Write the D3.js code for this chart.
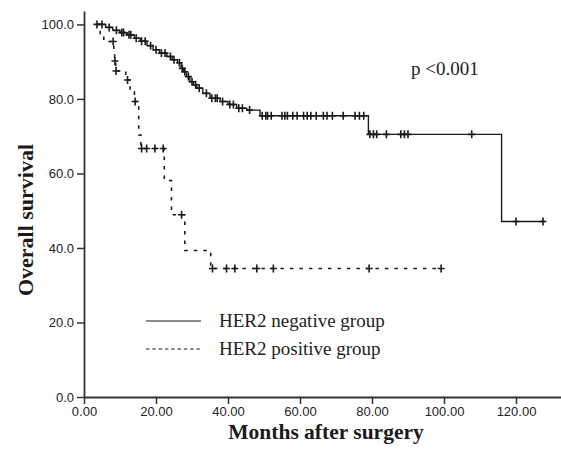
<!DOCTYPE html>
<html>
<head>
<meta charset="utf-8">
<script src="https://cdnjs.cloudflare.com/ajax/libs/d3/7.8.5/d3.min.js"></script>
<style>
body { margin: 0; background: #fff; }
</style>
</head>
<body>
<div class="container"></div>
<script>
/* Size */
const width = 561;
const height = 451;

/* Data: Kaplan-Meier steps */
// HER2 negative group: survival drops to negSurv[i] at negTimes[i]
const negTimes = [3.6, 6, 8, 10, 12, 14, 15.6, 17.5, 19.2, 21, 23, 24.5, 26, 27, 27.6, 28.5, 29.4, 30.4, 31.3, 33, 35, 37.8, 40, 42.4, 45.2, 48.9, 79, 116];
const negSurv = [100, 99.2, 98.4, 97.8, 97.2, 96.3, 95.5, 94.3, 93.2, 92.3, 91.4, 90.5, 89.7, 88.2, 87.3, 86, 84.6, 83.8, 82.9, 81.5, 80.2, 79.3, 78.5, 77.5, 77, 75.5, 70.5, 47.1];
const negEnd = 128;
const negCensor = [3.6, 5, 7, 9, 10.5, 11, 12.5, 13, 14.5, 16, 17, 18.5, 20, 21.5, 22.5, 24, 25, 26.5, 27.3, 28, 29, 30, 31, 32, 34, 35.5, 36.5, 37, 38.5, 40.5, 41.5, 43, 44, 46, 49.5, 50.5, 51, 52, 55, 55.8, 56.5, 58, 59.2, 61, 62, 63, 64.5, 66.5, 67.5, 69, 72, 75.3, 76.5, 77.7, 79.4, 80.4, 81.3, 84, 88, 89, 90, 107.7, 120, 127.5];

// HER2 positive group
const posTimes = [3.6, 4.5, 5.5, 8.3, 8.5, 8.8, 11.6, 12.8, 14, 15.2, 15.8, 22.3, 24.3, 28, 35.2];
const posSurv = [100, 97.5, 95.4, 92.4, 90.2, 87.5, 85.1, 82, 79.3, 70.3, 66.7, 58.1, 48.9, 39.3, 34.5];
const posEnd = 99.2;
const posCensor = [8.1, 8.6, 8.9, 12.1, 14.2, 16, 17.4, 19.7, 22, 27.1, 35.7, 39.6, 41.9, 48, 52.6, 79.2, 99.2];

/* Axes */
const xTicks = [0, 20, 40, 60, 80, 100, 120];
const yTicks = [0, 20, 40, 60, 80, 100];
const xTitle = 'Months after surgery';
const yTitle = 'Overall survival';

/* Legend and note */
const legendLabels = ['HER2 negative group', 'HER2 positive group'];
const pText = 'p <0.001';

/* Styles */
const ink = '#1a1a1a';
const axisInk = '#333';
const serif = '"Liberation Serif", "Times New Roman", serif';
const sans = '"Liberation Sans", Arial, sans-serif';

function survAt(times, surv, t) {
    let s = surv[0];
    for (let i = 0; i < times.length; i++) {
        if (times[i] <= t) s = surv[i];
    }
    return s;
}

function stepPoints(times, surv, end) {
    const pts = times.map((t, i) => [t, surv[i]]);
    pts.push([end, surv[surv.length - 1]]);
    return pts;
}

function draw() {
    const x = d3.scaleLinear().domain([0, 132.5]).range([84, 561]);
    const y = d3.scaleLinear().domain([0, 103.6]).range([397, 11]);

    const svg = d3.select('.container')
        .append('svg')
        .attr('width', width)
        .attr('height', height)
        .style('background', '#fff');

    // Axes
    const yAxis = svg.append('g')
        .attr('transform', `translate(${x(0)},0)`)
        .call(d3.axisLeft(y).tickValues(yTicks).tickFormat(d3.format('.1f')).tickSize(7).tickSizeOuter(0).tickPadding(3));
    const xAxis = svg.append('g')
        .attr('transform', `translate(0,${y(0)})`)
        .call(d3.axisBottom(x).tickValues(xTicks).tickFormat(d3.format('.2f')).tickSize(7).tickSizeOuter(0).tickPadding(3));

    [xAxis, yAxis].forEach(a => {
        a.select('.domain').attr('stroke', axisInk).attr('stroke-width', 1.8);
        a.selectAll('.tick line').attr('stroke', axisInk).attr('stroke-width', 1.5);
        a.selectAll('.tick text')
            .attr('fill', '#222')
            .style('font-family', sans)
            .style('font-size', '13px');
    });

    // Axis titles
    svg.append('text')
        .attr('x', 326)
        .attr('y', 439)
        .attr('text-anchor', 'middle')
        .style('font-family', serif)
        .style('font-weight', 'bold')
        .style('font-size', '21.5px')
        .attr('fill', ink)
        .text(xTitle);
    svg.append('text')
        .attr('transform', 'translate(33,220) rotate(-90)')
        .attr('text-anchor', 'middle')
        .style('font-family', serif)
        .style('font-weight', 'bold')
        .style('font-size', '22px')
        .attr('fill', ink)
        .text(yTitle);

    // Curves
    const line = d3.line()
        .curve(d3.curveStepAfter)
        .x(d => x(d[0]))
        .y(d => y(d[1]));

    svg.append('path')
        .datum(stepPoints(negTimes, negSurv, negEnd))
        .attr('d', line)
        .attr('fill', 'none')
        .attr('stroke', ink)
        .attr('stroke-width', 1.4);

    svg.append('path')
        .datum(stepPoints(posTimes, posSurv, posEnd))
        .attr('d', line)
        .attr('fill', 'none')
        .attr('stroke', ink)
        .attr('stroke-width', 1.6)
        .attr('stroke-dasharray', '3.5,6');

    // Censor marks
    const plus = 'M-3.5,0H3.5M0,-4V4';
    const marks = negCensor.map(t => [t, survAt(negTimes, negSurv, t)])
        .concat(posCensor.map(t => [t, survAt(posTimes, posSurv, t)]));
    svg.selectAll('.censor')
        .data(marks)
        .enter()
        .append('path')
        .attr('class', 'censor')
        .attr('transform', d => `translate(${x(d[0])},${y(d[1])})`)
        .attr('d', plus)
        .attr('fill', 'none')
        .attr('stroke', ink)
        .attr('stroke-width', 1.6);

    // Legend
    const legend = svg.append('g');
    legendLabels.forEach((label, i) => {
        const ly = 321 + i * 28;
        legend.append('line')
            .attr('x1', 146).attr('x2', 201)
            .attr('y1', ly).attr('y2', ly)
            .attr('stroke', ink)
            .attr('stroke-width', 1.2)
            .attr('stroke-dasharray', i === 0 ? null : '3.5,2.8');
        legend.append('text')
            .attr('x', 219)
            .attr('y', ly + 6)
            .style('font-family', serif)
            .style('font-size', '19px')
            .attr('fill', '#222')
            .text(label);
    });

    // p-value
    svg.append('text')
        .attr('x', 411)
        .attr('y', 75)
        .style('font-family', serif)
        .style('font-size', '19px')
        .attr('fill', '#222')
        .text(pText);
}

draw();
</script>
</body>
</html>
